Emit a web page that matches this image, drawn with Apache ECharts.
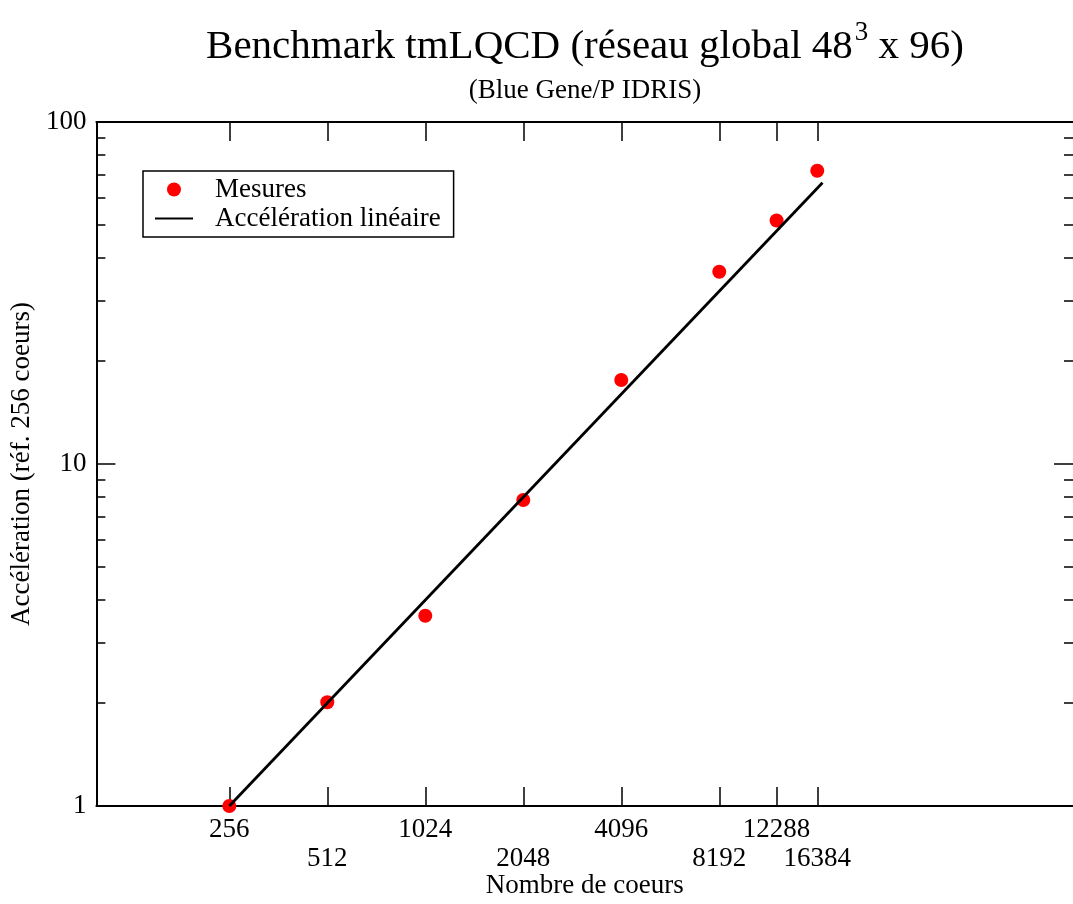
<!DOCTYPE html>
<html>
<head>
<meta charset="utf-8">
<script src="https://cdn.jsdelivr.net/npm/echarts@6/dist/echarts.min.js"></script>
<style>
html,body{margin:0;padding:0;background:#fff;}
#main{width:1073px;height:904px;}
</style>
</head>
<body>
<div id="main"></div>
<script>
// ---- data ----
const cores = [256, 512, 1024, 2048, 4096, 8192, 12288, 16384];
const speedup = [1, 2.01, 3.6, 7.85, 17.6, 36.5, 51.5, 72];
const linearX = [256, 17000];
const linearY = [1, 66.4];
const xTickValues = [256, 512, 1024, 2048, 4096, 8192, 12288, 16384];
const xLabelsRow1 = [256, 1024, 4096, 12288];
const xLabelsRow2 = [512, 2048, 8192, 16384];
const yMajorValues = [1, 10, 100];
const yMinorValues = [2, 3, 4, 5, 6, 7, 8, 9, 20, 30, 40, 50, 60, 70, 80, 90];

const FONT = 'Liberation Serif';
const chart = echarts.init(document.getElementById('main'), null, {renderer: 'canvas'});

const measures = cores.map((c, i) => [c, speedup[i]]);
const linear = linearX.map((x, i) => [x, linearY[i]]);

const axisLineStyle = {color: '#000', width: 2};
const tickStyle = {color: '#000', width: 1.5};
const plain = v => String(Math.round(v));

function xAx(extra) {
  return Object.assign({
    type: 'log', logBase: 10, min: 100, max: 100000, gridIndex: 0,
    splitLine: {show: false}, minorTick: {show: false}
  }, extra);
}
function yAx(extra) {
  return Object.assign({
    type: 'log', logBase: 10, min: 1, max: 100, gridIndex: 0,
    splitLine: {show: false}, minorTick: {show: false}
  }, extra);
}

const option = {
  backgroundColor: '#fff',
  animation: false,
  graphic: [
    {
      type: 'text', x: 585, y: 19,
      style: {
        text: 'Benchmark tmLQCD (réseau global 48{sup|3} x 96)',
        font: '41px "Liberation Serif"', fill: '#000', textAlign: 'center',
        rich: {sup: {fontSize: 27, fontFamily: FONT, verticalAlign: 'top', padding: [0, 0, 30, 2]}}
      }
    },
    {
      type: 'text', x: 585, y: 77,
      style: {text: '(Blue Gene/P IDRIS)', font: '27px "Liberation Serif"', fill: '#000', textAlign: 'center'}
    }
  ],
  grid: {left: 95, right: 0, top: 122, bottom: 97, containLabel: false},
  legend: {
    orient: 'vertical', left: 143, top: 171,
    data: ['Mesures', {name: 'Accélération linéaire', itemStyle: {opacity: 0}}],
    borderColor: '#000', borderWidth: 1.5, borderRadius: 0,
    padding: [5, 13, 5, 11],
    itemWidth: 38, itemHeight: 14, itemGap: 2,
    textStyle: {fontFamily: FONT, fontSize: 27, color: '#000', padding: [0, 0, 0, 17]},
    backgroundColor: '#fff'
  },
  xAxis: [
    xAx({
      position: 'bottom',
      name: 'Nombre de coeurs', nameLocation: 'middle', nameGap: 66,
      nameTextStyle: {fontFamily: FONT, fontSize: 27, color: '#000'},
      axisLine: {show: true, lineStyle: axisLineStyle},
      axisTick: {show: true, inside: true, length: 19, lineStyle: tickStyle, customValues: xTickValues},
      axisLabel: {show: true, margin: 10, fontFamily: FONT, fontSize: 27, color: '#000', customValues: xLabelsRow1, formatter: plain}
    }),
    xAx({
      position: 'bottom',
      axisLine: {show: false},
      axisTick: {show: false},
      axisLabel: {show: true, margin: 39, fontFamily: FONT, fontSize: 27, color: '#000', customValues: xLabelsRow2, formatter: plain}
    }),
    xAx({
      position: 'top',
      axisLine: {show: true, lineStyle: axisLineStyle},
      axisTick: {show: true, inside: true, length: 19, lineStyle: tickStyle, customValues: xTickValues},
      axisLabel: {show: false}
    })
  ],
  yAxis: [
    yAx({
      position: 'left',
      name: 'Accélération (réf. 256 coeurs)', nameLocation: 'middle', nameGap: 60,
      nameTextStyle: {fontFamily: FONT, fontSize: 27, color: '#000'},
      axisLine: {show: true, lineStyle: axisLineStyle},
      axisTick: {show: true, inside: true, length: 19, lineStyle: tickStyle, customValues: yMajorValues},
      axisLabel: {show: true, margin: 10, fontFamily: FONT, fontSize: 27, color: '#000', customValues: yMajorValues, formatter: plain}
    }),
    yAx({
      position: 'left',
      axisLine: {show: false},
      axisTick: {show: true, inside: true, length: 9, lineStyle: tickStyle, customValues: yMinorValues},
      axisLabel: {show: false}
    }),
    yAx({
      position: 'right',
      axisLine: {show: false},
      axisTick: {show: true, inside: true, length: 19, lineStyle: tickStyle, customValues: yMajorValues},
      axisLabel: {show: false}
    }),
    yAx({
      position: 'right',
      axisLine: {show: false},
      axisTick: {show: true, inside: true, length: 9, lineStyle: tickStyle, customValues: yMinorValues},
      axisLabel: {show: false}
    })
  ],
  series: [
    {
      name: 'Mesures', type: 'scatter', xAxisIndex: 0, yAxisIndex: 0,
      data: measures, symbol: 'circle', symbolSize: 14,
      itemStyle: {color: '#ff0000', opacity: 1}, z: 3
    },
    {
      name: 'Accélération linéaire', type: 'line', xAxisIndex: 0, yAxisIndex: 0,
      data: linear, symbol: 'none', showSymbol: false,
      lineStyle: {color: '#000', width: 2.8}, itemStyle: {color: '#000'}, z: 4
    }
  ]
};
chart.setOption(option);
</script>
</body>
</html>
